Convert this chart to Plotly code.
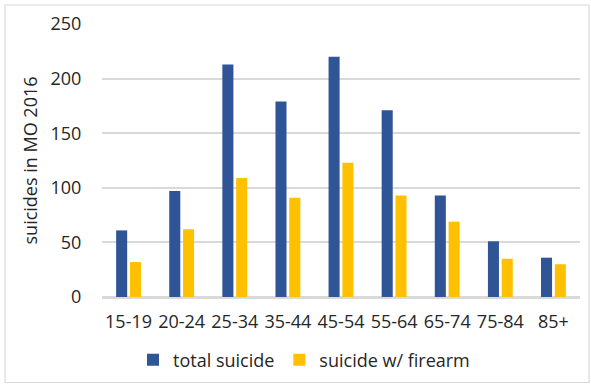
import plotly.graph_objects as go

categories = ["15-19", "20-24", "25-34", "35-44", "45-54", "55-64", "65-74", "75-84", "85+"]
total_suicide = [61, 97, 213, 179, 220, 171, 93, 51, 36]
firearm_suicide = [32, 62, 109, 91, 123, 93, 69, 35, 30]

W, H = 591, 385
L, R, T, B = 102, 11, 24, 88
pw, ph = W - L - R, H - T - B

fig = go.Figure()
fig.add_trace(go.Bar(x=categories, y=total_suicide, name="total suicide",
                     marker=dict(color="#2F5597", line=dict(color="#2F5597", width=0))))
fig.add_trace(go.Bar(x=categories, y=firearm_suicide, name="suicide w/ firearm",
                     marker=dict(color="#FFC000", line=dict(color="#FFC000", width=0))))

fam = "Open Sans, Liberation Sans, sans-serif"
font = dict(family=fam, size=18, color="#262626")

fig.update_layout(
    width=W, height=H,
    margin=dict(l=L, r=R, t=T, b=B, pad=0, autoexpand=False),
    paper_bgcolor="white", plot_bgcolor="white",
    barmode="group", bargap=0.48, bargroupgap=0.2,
    font=font,
    showlegend=True,
    legend=dict(orientation="h", x=(304 - L) / pw, xanchor="center", y=(297 - 360) / ph, yanchor="middle",
                font=dict(family=fam, size=18, color="#262626"),
                itemwidth=30, traceorder="normal"),
    xaxis=dict(showgrid=False, showline=True, linecolor="#D9D9D9", linewidth=1.5,
               ticks="outside", ticklen=8, tickcolor="rgba(0,0,0,0)",
               tickfont=font, fixedrange=True, automargin=False),
    yaxis=dict(range=[0, 250], tickvals=[0, 50, 100, 150, 200, 250],
               showgrid=True, gridcolor="#D9D9D9", gridwidth=1.5,
               zeroline=True, zerolinecolor="#D9D9D9", zerolinewidth=1.5,
               showline=False, ticks="outside", ticklen=16, tickcolor="rgba(0,0,0,0)",
               tickfont=font, automargin=False,
               title=dict(text="suicides in MO 2016", font=dict(family=fam, size=18, color="#262626"),
                          standoff=8)),
    shapes=[dict(type="rect", xref="paper", yref="paper",
                 x0=(5 - L) / pw, x1=(589 - L) / pw,
                 y0=(297 - 382.5) / ph, y1=(297 - 5) / ph,
                 line=dict(color="#D9D9D9", width=1.2), fillcolor="rgba(0,0,0,0)", layer="below")],
)

fig.write_html("out.html")
